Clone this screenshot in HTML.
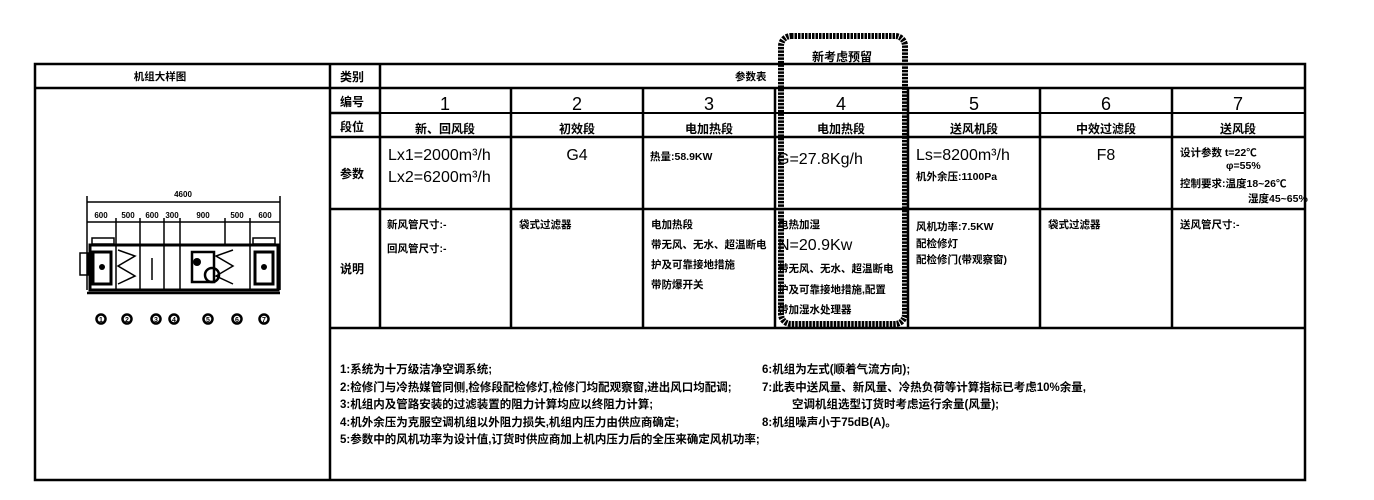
<!DOCTYPE html>
<html><head><meta charset="utf-8"><style>
html,body{margin:0;padding:0;background:#fff;width:1374px;height:500px;overflow:hidden}
svg{display:block}
text{font-family:"Liberation Sans","Noto Sans CJK SC",sans-serif;font-weight:bold;fill:#000}
.t{font-size:12px}
.s{font-size:10.5px}
.nt{font-size:11.5px}
.n{font-size:18px;font-weight:normal}
.m{font-size:16px;font-weight:normal}
</style></head><body>
<svg width="1374" height="500" viewBox="0 0 1374 500">
<g stroke="#000" stroke-width="2.5" fill="none">
<rect x="35" y="64" width="1270" height="416"/>
<line x1="35" y1="88" x2="1305" y2="88"/>
<line x1="330" y1="64" x2="330" y2="480"/>
<line x1="380" y1="64" x2="380" y2="328"/>
<line x1="380" y1="113" x2="1305" y2="113" stroke-width="2"/>
<line x1="330" y1="137" x2="1305" y2="137"/>
<line x1="330" y1="113" x2="380" y2="113"/>
<line x1="330" y1="209" x2="1305" y2="209"/>
<line x1="330" y1="328" x2="1305" y2="328"/>
<line x1="511" y1="88" x2="511" y2="328"/>
<line x1="643" y1="88" x2="643" y2="328"/>
<line x1="775" y1="88" x2="775" y2="328"/>
<line x1="908" y1="88" x2="908" y2="328"/>
<line x1="1040" y1="88" x2="1040" y2="328"/>
<line x1="1172" y1="88" x2="1172" y2="328"/>
</g>
<rect x="781" y="36" width="124" height="288" rx="10" fill="none" stroke="#000" stroke-width="6" stroke-dasharray="2.5 1"/>
<text class="t" x="812" y="61">新考虑预留</text>
<text class="s" x="160" y="80" text-anchor="middle">机组大样图</text>
<text class="t" x="340" y="81">类别</text>
<text class="s" x="735" y="80">参数表</text>
<text class="t" x="340" y="106">编号</text>
<text class="t" x="340" y="131">段位</text>
<text class="t" x="340" y="178">参数</text>
<text class="t" x="340" y="273">说明</text>
<g text-anchor="middle">
<text class="n" x="445" y="110">1</text><text class="n" x="577" y="110">2</text><text class="n" x="709" y="110">3</text><text class="n" x="841" y="110">4</text><text class="n" x="974" y="110">5</text><text class="n" x="1106" y="110">6</text><text class="n" x="1238" y="110">7</text>
<text class="t" x="445" y="133">新、回风段</text><text class="t" x="577" y="133">初效段</text><text class="t" x="709" y="133">电加热段</text><text class="t" x="841" y="133">电加热段</text><text class="t" x="974" y="133">送风机段</text><text class="t" x="1106" y="133">中效过滤段</text><text class="t" x="1238" y="133">送风段</text>
<text class="m" x="577" y="160">G4</text><text class="m" x="1106" y="160">F8</text>
</g>
<text class="m" x="388" y="160">Lx1=2000m³/h</text>
<text class="m" x="388" y="182">Lx2=6200m³/h</text>
<text class="s" x="650" y="160">热量:58.9KW</text>
<text class="m" x="777" y="164">G=27.8Kg/h</text>
<text class="m" x="916" y="160">Ls=8200m³/h</text>
<text class="s" x="916" y="180">机外余压:1100Pa</text>
<text class="s" x="1180" y="156">设计参数 t=22℃</text>
<text class="s" x="1226" y="169">φ=55%</text>
<text class="s" x="1180" y="187">控制要求:温度18~26℃</text>
<text class="s" x="1248" y="202">湿度45~65%</text>
<text class="s" x="387" y="228">新风管尺寸:-</text>
<text class="s" x="387" y="252">回风管尺寸:-</text>
<text class="s" x="519" y="228">袋式过滤器</text>
<text class="s" x="651" y="228">电加热段</text>
<text class="s" x="651" y="248">带无风、无水、超温断电</text>
<text class="s" x="651" y="268">护及可靠接地措施</text>
<text class="s" x="651" y="288">带防爆开关</text>
<text class="s" x="778" y="228">电热加湿</text>
<text class="m" x="778" y="250">N=20.9Kw</text>
<text class="s" x="778" y="272">带无风、无水、超温断电</text>
<text class="s" x="778" y="293">护及可靠接地措施,配置</text>
<text class="s" x="778" y="313">带加湿水处理器</text>
<text class="s" x="916" y="230">风机功率:7.5KW</text>
<text class="s" x="916" y="247">配检修灯</text>
<text class="s" x="916" y="263">配检修门(带观察窗)</text>
<text class="s" x="1048" y="228">袋式过滤器</text>
<text class="s" x="1180" y="228">送风管尺寸:-</text>
<text class="nt" x="340" y="373">1:系统为十万级洁净空调系统;</text>
<text class="nt" x="340" y="391">2:检修门与冷热媒管同侧,检修段配检修灯,检修门均配观察窗,进出风口均配调;</text>
<text class="nt" x="340" y="408">3:机组内及管路安装的过滤装置的阻力计算均应以终阻力计算;</text>
<text class="nt" x="340" y="426">4:机外余压为克服空调机组以外阻力损失,机组内压力由供应商确定;</text>
<text class="nt" x="340" y="443">5:参数中的风机功率为设计值,订货时供应商加上机内压力后的全压来确定风机功率;</text>
<text class="nt" x="762" y="373">6:机组为左式(顺着气流方向);</text>
<text class="nt" x="762" y="391">7:此表中送风量、新风量、冷热负荷等计算指标已考虑10%余量,</text>
<text class="nt" x="792" y="408">空调机组选型订货时考虑运行余量(风量);</text>
<text class="nt" x="762" y="426">8:机组噪声小于75dB(A)。</text>
<!-- unit drawing -->
<g stroke="#000" fill="none" stroke-width="1.5">
<line x1="87" y1="202" x2="280" y2="202"/>
<line x1="87" y1="222" x2="280" y2="222"/>
<line x1="87" y1="196" x2="87" y2="290"/><line x1="280" y1="196" x2="280" y2="290"/>
<line x1="116" y1="218" x2="116" y2="244"/><line x1="140" y1="218" x2="140" y2="244"/><line x1="164" y1="218" x2="164" y2="244"/><line x1="180" y1="218" x2="180" y2="244"/><line x1="225" y1="218" x2="225" y2="244"/><line x1="250" y1="218" x2="250" y2="244"/>
<rect x="90" y="245" width="188" height="45" stroke-width="3"/>
<line x1="87" y1="293" x2="280" y2="293" stroke-width="2.5"/>
<rect x="93" y="252" width="18" height="32" stroke-width="3"/>
<rect x="255" y="252" width="18" height="32" stroke-width="3"/>
<polyline points="118,250 135,256 118,266 135,276 118,284"/>
<polyline points="233,250 216,256 233,266 216,276 233,284"/>
<rect x="192" y="252" width="22" height="30" stroke-width="2.5"/>
<circle cx="212" cy="275" r="7" stroke-width="2.5"/>
<line x1="116" y1="245" x2="116" y2="290"/><line x1="140" y1="245" x2="140" y2="290"/><line x1="164" y1="245" x2="164" y2="290"/><line x1="180" y1="245" x2="180" y2="290"/><line x1="250" y1="245" x2="250" y2="290"/>
<rect x="92" y="238" width="22" height="6"/><rect x="253" y="238" width="22" height="6"/>
<line x1="152" y1="258" x2="152" y2="280"/>
<rect x="80" y="253" width="8" height="22"/>
</g>
<circle cx="102" cy="267" r="3"/><circle cx="264" cy="267" r="3"/><circle cx="197" cy="262" r="4"/>
<text x="183" y="197" style="font-size:8px" text-anchor="middle">4600</text>
<g text-anchor="middle">
<text x="101" y="218" style="font-size:8px">600</text><text x="128" y="218" style="font-size:8px">500</text><text x="152" y="218" style="font-size:8px">600</text><text x="172" y="218" style="font-size:8px">300</text><text x="203" y="218" style="font-size:8px">900</text><text x="237" y="218" style="font-size:8px">500</text><text x="265" y="218" style="font-size:8px">600</text>
</g>
<g fill="none" stroke="#000" stroke-width="2.5">
<circle cx="101" cy="319" r="4.5"/><circle cx="127" cy="319" r="4.5"/><circle cx="156" cy="319" r="4.5"/><circle cx="174" cy="319" r="4.5"/><circle cx="208" cy="319" r="4.5"/><circle cx="237" cy="319" r="4.5"/><circle cx="264" cy="319" r="4.5"/>
</g>
<g text-anchor="middle">
<text x="101" y="322" style="font-size:7px">1</text><text x="127" y="322" style="font-size:7px">2</text><text x="156" y="322" style="font-size:7px">3</text><text x="174" y="322" style="font-size:7px">4</text><text x="208" y="322" style="font-size:7px">5</text><text x="237" y="322" style="font-size:7px">6</text><text x="264" y="322" style="font-size:7px">7</text>
</g>
</svg>
</body></html>
